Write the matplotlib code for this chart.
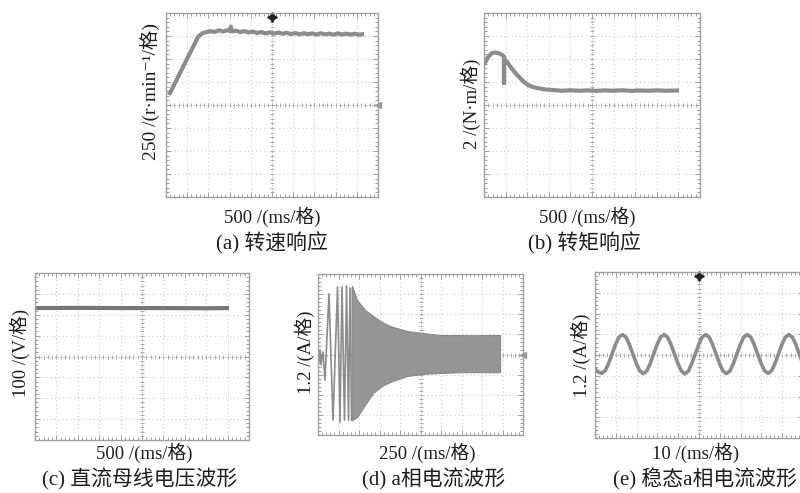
import numpy as np
import matplotlib.pyplot as plt
from matplotlib.ticker import MultipleLocator

plt.rcParams['font.family'] = ['Liberation Serif', 'Noto Sans CJK SC', 'DejaVu Serif']

W, H = 800, 493

# (a) speed response: time in ms, speed in r/min (zero at the centre line)
speed_t = [94, 300, 500, 700, 755, 850, 967, 1050, 1150, 1250, 1350, 1450,
           1509, 1530, 1550, 1650, 1750, 1850, 1950, 2050, 2150, 2250, 2350,
           2450, 2550, 2650, 2750, 2850, 2950, 3050, 3150, 3250, 3350, 3450,
           3550, 3650, 3750, 3850, 3950, 4050, 4150, 4250, 4350, 4450, 4550,
           4623]
speed_v = [130, 320, 504, 688, 739, 778, 795, 802, 794, 812, 798, 814,
           804, 852, 800, 808, 792, 803, 788, 798, 782, 794, 778, 790,
           776, 788, 774, 785, 770, 782, 768, 780, 770, 778, 766, 780,
           768, 776, 764, 778, 766, 776, 765, 775, 764, 768]

# (b) torque response: time in ms, torque in N*m
torque_t = [23, 93, 185, 250, 324, 400, 455, 463, 463, 463, 532, 600, 671,
            750, 833, 920, 1019, 1120, 1227, 1400, 1597, 1800, 2000, 2200,
            2400, 2600, 2800, 3000, 3200, 3400, 3600, 3800, 4000, 4200, 4468]
torque_v = [3.65, 4.17, 4.52, 4.56, 4.52, 4.40, 4.25, 4.10, 1.91, 4.05, 3.74,
            3.38, 3.04, 2.68, 2.35, 2.02, 1.74, 1.58, 1.48, 1.36, 1.30, 1.24,
            1.28, 1.24, 1.27, 1.23, 1.27, 1.24, 1.28, 1.23, 1.26, 1.24, 1.27,
            1.24, 1.26]

# (c) dc bus voltage: time in ms, voltage in V
volt_t = [0, 1000, 2000, 3000, 4000, 4485]
volt_v = [232, 233, 232, 232, 231, 232]

# (d) phase-a current: start-up oscillations, then envelope of the dense part
cur_t = [0, 12, 24, 37, 49, 61, 85, 134, 183, 238, 268, 293, 323, 348, 372,
         390, 409]
cur_v = [0.15, -0.45, 0.27, -0.63, -0.03, 0.15, -1.52, 3.61, -3.91, 4.03,
         -4.03, 4.03, -3.91, 4.09, -3.91, 3.97, -3.91]
env_t = [409, 415, 476, 573, 671, 780, 878, 1085, 1280, 1488, 1700, 1900,
         2100, 2220]
env_hi = [3.97, 4.09, 3.25, 2.66, 2.30, 1.94, 1.70, 1.40, 1.28, 1.16, 1.16,
          1.15, 1.16, 1.16]
env_lo = [-3.91, -3.91, -3.73, -3.01, -2.30, -1.88, -1.64, -1.28, -1.16,
          -1.10, -1.06, -1.05, -1.06, -1.05]

# (e) steady-state phase-a current: time in ms, current in A
ss_t = [0, 1.6,
        3.2, 4.9, 6.5, 8.2, 9.9, 11.5, 13.2, 14.9, 16.5, 18.2, 19.9, 21.5,
        23.2, 24.9, 26.5, 28.2, 29.9, 31.5, 33.2, 34.9, 36.5, 38.2, 39.9, 41.5,
        43.2, 44.9, 46.5, 48.2, 49.9, 51.5, 53.2, 54.9, 56.5, 58.2, 59.9, 61.5,
        63.2, 64.9, 66.5, 68.2, 69.9, 71.5, 73.2, 74.9, 76.5, 78.2, 79.9, 81.5,
        83.2, 84.9, 86.5, 88.2, 89.9, 91.5, 93.2, 94.9, 96.5, 98.2, 99.9, 101.5,
        103.2]
ss_v = [-0.80, -0.98,
        -1.06, -0.91, -0.50, 0.06, 0.62, 1.03, 1.18, 1.03, 0.62, 0.06, -0.50, -0.91,
        -1.08, -0.92, -0.50, 0.06, 0.62, 1.03, 1.18, 1.03, 0.62, 0.06, -0.50, -0.92,
        -1.10, -0.93, -0.50, 0.06, 0.62, 1.03, 1.18, 1.03, 0.62, 0.06, -0.50, -0.92,
        -1.08, -0.92, -0.50, 0.06, 0.62, 1.03, 1.18, 1.03, 0.62, 0.06, -0.50, -0.91,
        -1.06, -0.91, -0.50, 0.06, 0.62, 1.03, 1.18, 1.03, 0.62, 0.06, -0.50, -0.91,
        -1.06]

GRID = '#cccccc'
CENTER = '#adadad'
TRACE = '#8c8c8c'
TEXT = '#1e1e1e'

fig = plt.figure(figsize=(W / 100, H / 100), dpi=100)


def px_axes(x0, y0, x1, y1):
    return fig.add_axes([x0 / W, 1 - y1 / H, (x1 - x0) / W, (y1 - y0) / H])


def px_text(x, y, s, size, rot=0):
    fig.text(x / W, 1 - y / H, s, ha='center', va='center', fontsize=size,
             rotation=rot, color=TEXT)


def scope(ax, xdiv, ydiv):
    ax.set_xlim(0, 10 * xdiv)
    ax.set_ylim(-4 * ydiv, 4 * ydiv)
    for i in range(1, 10):
        if i != 5:
            ax.axvline(i * xdiv, color=GRID, lw=0.8, ls=(0, (1, 2.5)), zorder=0)
    for j in range(-3, 4):
        if j != 0:
            ax.axhline(j * ydiv, color=GRID, lw=0.8, ls=(0, (1, 2.5)), zorder=0)
    ax.axvline(5 * xdiv, color=CENTER, lw=0.8, ls=(0, (1, 1.5)), zorder=0)
    ax.axhline(0, color=CENTER, lw=0.8, ls=(0, (1, 1.5)), zorder=0)
    xs = np.arange(0, 10.01, 0.2) * xdiv
    ys = np.arange(-4, 4.01, 0.2) * ydiv
    ax.plot(xs, np.zeros_like(xs), ls='none', marker='|', ms=3, mew=0.7,
            color=CENTER, zorder=0)
    ax.plot(np.full_like(ys, 5 * xdiv), ys, ls='none', marker='_', ms=3,
            mew=0.7, color=CENTER, zorder=0)
    for sp in ax.spines.values():
        sp.set_color('#a0a0a0')
        sp.set_linewidth(1.0)
    ax.xaxis.set_major_locator(MultipleLocator(xdiv))
    ax.yaxis.set_major_locator(MultipleLocator(ydiv))
    ax.xaxis.set_minor_locator(MultipleLocator(xdiv / 5))
    ax.yaxis.set_minor_locator(MultipleLocator(ydiv / 5))
    ax.tick_params(which='both', direction='in', top=True, right=True,
                   labelbottom=False, labelleft=False, color='#a0a0a0',
                   width=0.7)
    ax.tick_params(which='major', length=3.5)
    ax.tick_params(which='minor', length=2.5)


# (a)
ax = px_axes(166, 13, 378, 197)
scope(ax, 500, 250)
ax.plot(speed_t, speed_v, color=TRACE, lw=3.0, solid_joinstyle='round')
ax.plot([2500], [4 * 250 - 45], marker=(4, 1, 0), ms=7, color='#222', clip_on=False)
ax.plot([5000], [0], marker='<', ms=4, color='#999', clip_on=False)
px_text(150, 92, '250 /(r·min\u207b\u00b9/格)', 14, 90)
px_text(272, 217, '500 /(ms/格)', 13.5)
px_text(272, 243, '(a) 转速响应', 15)

# (b)
ax = px_axes(484, 13, 700, 197)
scope(ax, 500, 2)
ax.plot(torque_t, torque_v, color=TRACE, lw=3.0, solid_joinstyle='round')
px_text(471, 104, '2 /(N·m/格)', 13.5, 90)
px_text(587, 217, '500 /(ms/格)', 13.5)
px_text(584, 243, '(b) 转矩响应', 15)

# (c)
ax = px_axes(35, 273, 249, 440)
scope(ax, 500, 100)
ax.plot(volt_t, volt_v, color='#767676', lw=3.0)
px_text(20, 353, '100 /(V/格)', 13.5, 90)
px_text(144, 453, '500 /(ms/格)', 13.5)
px_text(140, 479, '(c) 直流母线电压波形', 15)

# (d)
ax = px_axes(318, 274, 523, 435)
scope(ax, 250, 1.2)
ax.plot(cur_t, cur_v, color=TRACE, lw=1.2)
ax.fill_between(env_t, env_lo, env_hi, color='#959595', lw=0.8,
                edgecolor='#8a8a8a')
ax.plot([2500], [0], marker='<', ms=4, color='#999', clip_on=False)
px_text(305, 352, '1.2 /(A/格)', 13.5, 90)
px_text(427, 453, '250 /(ms/格)', 13.5)
px_text(434, 479, '(d) a相电流波形', 15)

# (e)
ax = px_axes(595, 272, 803, 438)
scope(ax, 10, 1.2)
ax.plot(ss_t, ss_v, color=TRACE, lw=2.6, solid_joinstyle='round')
ax.plot([50], [4 * 1.2 - 0.22], marker=(4, 1, 0), ms=7, color='#222', clip_on=False)
px_text(581, 355, '1.2 /(A/格)', 13.5, 90)
px_text(696, 453, '10 /(ms/格)', 13.5)
px_text(705, 479, '(e) 稳态a相电流波形', 15)

fig.savefig('out.png', dpi=100)
